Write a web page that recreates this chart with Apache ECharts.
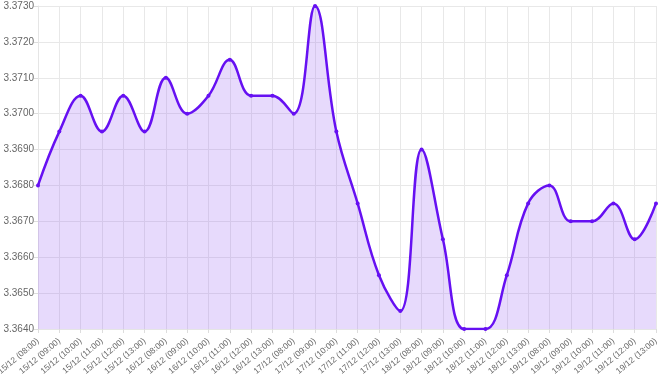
<!DOCTYPE html>
<html>
<head>
<meta charset="utf-8">
<script src="https://cdn.jsdelivr.net/npm/echarts@6/dist/echarts.min.js"></script>
<style>
  html, body { margin: 0; padding: 0; background: #fff; }
  #main { width: 661px; height: 376px; }
</style>
</head>
<body>
<div id="main"></div>
<script>
// categories: day/month (hour)
const days = ['15/12', '16/12', '17/12', '18/12', '19/12'];
const hours = ['08:00', '09:00', '10:00', '11:00', '12:00', '13:00'];
const categories = [];
days.forEach(d => hours.forEach(h => categories.push(d + ' (' + h + ')')));

// rate values
const rates = [
  3.3680, 3.3695, 3.3705, 3.3695, 3.3705, 3.3695,
  3.3710, 3.3700, 3.3705, 3.3715, 3.3705, 3.3705,
  3.3700, 3.3730, 3.3695, 3.3675, 3.3655, 3.3645,
  3.3690, 3.3665, 3.3640, 3.3640, 3.3655, 3.3675,
  3.3680, 3.3670, 3.3670, 3.3675, 3.3665, 3.3675
];

const yMin = 3.364;
const yMax = 3.373;
const yStep = 0.001;

const labelFont = 'Arial, "Liberation Sans", sans-serif';

const chart = echarts.init(document.getElementById('main'));
chart.setOption({
  animation: false,
  backgroundColor: '#ffffff',
  grid: { left: 38, right: 5, top: 6, bottom: 47, containLabel: false, outerBoundsMode: 'none' },
  xAxis: {
    type: 'category',
    data: categories,
    boundaryGap: false,
    axisLine: { lineStyle: { color: '#e5e5e5' } },
    axisTick: { show: true, length: 4, lineStyle: { color: '#dddddd' } },
    axisLabel: {
      rotate: 40,
      interval: 0,
      fontSize: 8.5,
      color: '#666666',
      fontFamily: labelFont,
      margin: 11
    },
    splitLine: { show: true, lineStyle: { color: '#e8e8e8' } }
  },
  yAxis: {
    type: 'value',
    min: yMin,
    max: yMax,
    interval: yStep,
    axisLine: { show: true, lineStyle: { color: '#e5e5e5' } },
    axisTick: { show: true, length: 4, lineStyle: { color: '#dddddd' } },
    axisLabel: {
      fontSize: 10,
      color: '#666666',
      fontFamily: labelFont,
      margin: 4,
      formatter: v => v.toFixed(4)
    },
    splitLine: { show: true, lineStyle: { color: '#e8e8e8' } }
  },
  series: [{
    type: 'line',
    data: rates,
    smooth: 0.4,
    symbol: 'circle',
    symbolSize: 4,
    itemStyle: { color: '#6610f2' },
    lineStyle: { color: '#6610f2', width: 2.5 },
    areaStyle: { color: 'rgba(140, 80, 240, 0.3)', origin: 'start' }
  }]
});
</script>
</body>
</html>
